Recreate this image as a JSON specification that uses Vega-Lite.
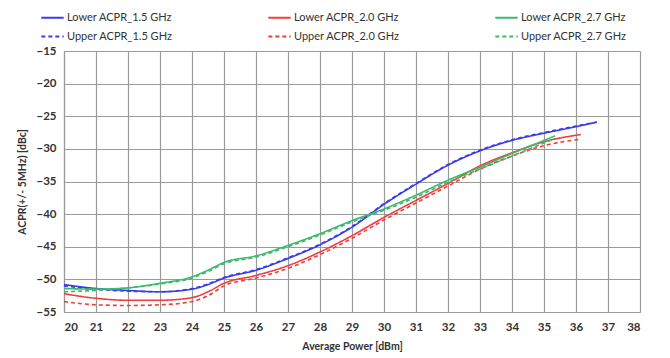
{
  "$schema": "https://vega.github.io/schema/vega-lite/v6.json",
  "autosize": {"type": "none"},
  "padding": {"left": 64, "top": 51, "right": 30, "bottom": 46},
  "width": 576,
  "height": 261,
  "background": "white",
  "config": {
    "view": {"stroke": null},
    "font": "Lato",
    "axis": {
      "gridColor": "#9a9a9a",
      "gridWidth": 1.2,
      "domainColor": "#9a9a9a",
      "domainWidth": 1.2,
      "tickColor": "#9a9a9a",
      "labelFont": "Lato",
      "labelFontWeight": "bold",
      "labelFontSize": 11.5,
      "labelColor": "#333333",
      "titleFont": "Lato",
      "titleFontWeight": "bold",
      "titleFontSize": 10.5,
      "titleColor": "#333333"
    }
  },
  "data": {
    "values": [
      {"power": 20, "acpr": -50.8, "series": "Lower ACPR_1.5 GHz"},
      {"power": 21, "acpr": -51.4, "series": "Lower ACPR_1.5 GHz"},
      {"power": 22, "acpr": -51.7, "series": "Lower ACPR_1.5 GHz"},
      {"power": 23, "acpr": -51.9, "series": "Lower ACPR_1.5 GHz"},
      {"power": 24, "acpr": -51.5, "series": "Lower ACPR_1.5 GHz"},
      {"power": 24.5, "acpr": -50.8, "series": "Lower ACPR_1.5 GHz"},
      {"power": 25, "acpr": -49.8, "series": "Lower ACPR_1.5 GHz"},
      {"power": 26, "acpr": -48.6, "series": "Lower ACPR_1.5 GHz"},
      {"power": 27, "acpr": -46.8, "series": "Lower ACPR_1.5 GHz"},
      {"power": 28, "acpr": -44.7, "series": "Lower ACPR_1.5 GHz"},
      {"power": 29, "acpr": -42.0, "series": "Lower ACPR_1.5 GHz"},
      {"power": 30, "acpr": -38.5, "series": "Lower ACPR_1.5 GHz"},
      {"power": 31, "acpr": -35.4, "series": "Lower ACPR_1.5 GHz"},
      {"power": 32, "acpr": -32.5, "series": "Lower ACPR_1.5 GHz"},
      {"power": 33, "acpr": -30.3, "series": "Lower ACPR_1.5 GHz"},
      {"power": 34, "acpr": -28.7, "series": "Lower ACPR_1.5 GHz"},
      {"power": 35, "acpr": -27.6, "series": "Lower ACPR_1.5 GHz"},
      {"power": 36, "acpr": -26.6, "series": "Lower ACPR_1.5 GHz"},
      {"power": 36.65, "acpr": -25.9, "series": "Lower ACPR_1.5 GHz"},

      {"power": 20, "acpr": -51.0, "series": "Upper ACPR_1.5 GHz"},
      {"power": 21, "acpr": -51.5, "series": "Upper ACPR_1.5 GHz"},
      {"power": 22, "acpr": -51.8, "series": "Upper ACPR_1.5 GHz"},
      {"power": 23, "acpr": -51.9, "series": "Upper ACPR_1.5 GHz"},
      {"power": 24, "acpr": -51.4, "series": "Upper ACPR_1.5 GHz"},
      {"power": 24.5, "acpr": -50.7, "series": "Upper ACPR_1.5 GHz"},
      {"power": 25, "acpr": -49.7, "series": "Upper ACPR_1.5 GHz"},
      {"power": 26, "acpr": -48.5, "series": "Upper ACPR_1.5 GHz"},
      {"power": 27, "acpr": -46.7, "series": "Upper ACPR_1.5 GHz"},
      {"power": 28, "acpr": -44.6, "series": "Upper ACPR_1.5 GHz"},
      {"power": 29, "acpr": -41.9, "series": "Upper ACPR_1.5 GHz"},
      {"power": 30, "acpr": -38.4, "series": "Upper ACPR_1.5 GHz"},
      {"power": 31, "acpr": -35.3, "series": "Upper ACPR_1.5 GHz"},
      {"power": 32, "acpr": -32.4, "series": "Upper ACPR_1.5 GHz"},
      {"power": 33, "acpr": -30.2, "series": "Upper ACPR_1.5 GHz"},
      {"power": 34, "acpr": -28.6, "series": "Upper ACPR_1.5 GHz"},
      {"power": 35, "acpr": -27.5, "series": "Upper ACPR_1.5 GHz"},
      {"power": 36, "acpr": -26.5, "series": "Upper ACPR_1.5 GHz"},
      {"power": 36.65, "acpr": -25.9, "series": "Upper ACPR_1.5 GHz"},

      {"power": 20, "acpr": -52.2, "series": "Lower ACPR_2.0 GHz"},
      {"power": 21, "acpr": -52.9, "series": "Lower ACPR_2.0 GHz"},
      {"power": 22, "acpr": -53.2, "series": "Lower ACPR_2.0 GHz"},
      {"power": 23, "acpr": -53.2, "series": "Lower ACPR_2.0 GHz"},
      {"power": 24, "acpr": -52.8, "series": "Lower ACPR_2.0 GHz"},
      {"power": 24.5, "acpr": -51.9, "series": "Lower ACPR_2.0 GHz"},
      {"power": 25, "acpr": -50.6, "series": "Lower ACPR_2.0 GHz"},
      {"power": 26, "acpr": -49.4, "series": "Lower ACPR_2.0 GHz"},
      {"power": 27, "acpr": -47.9, "series": "Lower ACPR_2.0 GHz"},
      {"power": 28, "acpr": -45.8, "series": "Lower ACPR_2.0 GHz"},
      {"power": 29, "acpr": -43.3, "series": "Lower ACPR_2.0 GHz"},
      {"power": 30, "acpr": -40.5, "series": "Lower ACPR_2.0 GHz"},
      {"power": 31, "acpr": -37.9, "series": "Lower ACPR_2.0 GHz"},
      {"power": 32, "acpr": -35.3, "series": "Lower ACPR_2.0 GHz"},
      {"power": 33, "acpr": -32.6, "series": "Lower ACPR_2.0 GHz"},
      {"power": 34, "acpr": -30.6, "series": "Lower ACPR_2.0 GHz"},
      {"power": 35, "acpr": -28.9, "series": "Lower ACPR_2.0 GHz"},
      {"power": 36.15, "acpr": -27.8, "series": "Lower ACPR_2.0 GHz"},

      {"power": 20, "acpr": -53.4, "series": "Upper ACPR_2.0 GHz"},
      {"power": 21, "acpr": -53.9, "series": "Upper ACPR_2.0 GHz"},
      {"power": 22, "acpr": -54.0, "series": "Upper ACPR_2.0 GHz"},
      {"power": 23, "acpr": -53.9, "series": "Upper ACPR_2.0 GHz"},
      {"power": 24, "acpr": -53.4, "series": "Upper ACPR_2.0 GHz"},
      {"power": 24.5, "acpr": -52.5, "series": "Upper ACPR_2.0 GHz"},
      {"power": 25, "acpr": -51.0, "series": "Upper ACPR_2.0 GHz"},
      {"power": 26, "acpr": -49.8, "series": "Upper ACPR_2.0 GHz"},
      {"power": 27, "acpr": -48.3, "series": "Upper ACPR_2.0 GHz"},
      {"power": 28, "acpr": -46.2, "series": "Upper ACPR_2.0 GHz"},
      {"power": 29, "acpr": -43.7, "series": "Upper ACPR_2.0 GHz"},
      {"power": 30, "acpr": -40.9, "series": "Upper ACPR_2.0 GHz"},
      {"power": 31, "acpr": -38.3, "series": "Upper ACPR_2.0 GHz"},
      {"power": 32, "acpr": -35.7, "series": "Upper ACPR_2.0 GHz"},
      {"power": 33, "acpr": -33.1, "series": "Upper ACPR_2.0 GHz"},
      {"power": 34, "acpr": -31.1, "series": "Upper ACPR_2.0 GHz"},
      {"power": 35, "acpr": -29.5, "series": "Upper ACPR_2.0 GHz"},
      {"power": 36.15, "acpr": -28.5, "series": "Upper ACPR_2.0 GHz"},

      {"power": 20, "acpr": -51.4, "series": "Lower ACPR_2.7 GHz"},
      {"power": 21, "acpr": -51.5, "series": "Lower ACPR_2.7 GHz"},
      {"power": 22, "acpr": -51.3, "series": "Lower ACPR_2.7 GHz"},
      {"power": 23, "acpr": -50.6, "series": "Lower ACPR_2.7 GHz"},
      {"power": 24, "acpr": -49.6, "series": "Lower ACPR_2.7 GHz"},
      {"power": 24.5, "acpr": -48.6, "series": "Lower ACPR_2.7 GHz"},
      {"power": 25, "acpr": -47.4, "series": "Lower ACPR_2.7 GHz"},
      {"power": 26, "acpr": -46.4, "series": "Lower ACPR_2.7 GHz"},
      {"power": 27, "acpr": -44.8, "series": "Lower ACPR_2.7 GHz"},
      {"power": 28, "acpr": -43.0, "series": "Lower ACPR_2.7 GHz"},
      {"power": 29, "acpr": -41.0, "series": "Lower ACPR_2.7 GHz"},
      {"power": 30, "acpr": -39.2, "series": "Lower ACPR_2.7 GHz"},
      {"power": 31, "acpr": -37.1, "series": "Lower ACPR_2.7 GHz"},
      {"power": 32, "acpr": -34.8, "series": "Lower ACPR_2.7 GHz"},
      {"power": 33, "acpr": -32.8, "series": "Lower ACPR_2.7 GHz"},
      {"power": 34, "acpr": -30.7, "series": "Lower ACPR_2.7 GHz"},
      {"power": 35, "acpr": -28.7, "series": "Lower ACPR_2.7 GHz"},
      {"power": 35.35, "acpr": -28.0, "series": "Lower ACPR_2.7 GHz"},

      {"power": 20, "acpr": -51.9, "series": "Upper ACPR_2.7 GHz"},
      {"power": 21, "acpr": -51.7, "series": "Upper ACPR_2.7 GHz"},
      {"power": 22, "acpr": -51.3, "series": "Upper ACPR_2.7 GHz"},
      {"power": 23, "acpr": -50.7, "series": "Upper ACPR_2.7 GHz"},
      {"power": 24, "acpr": -49.8, "series": "Upper ACPR_2.7 GHz"},
      {"power": 24.5, "acpr": -48.8, "series": "Upper ACPR_2.7 GHz"},
      {"power": 25, "acpr": -47.6, "series": "Upper ACPR_2.7 GHz"},
      {"power": 26, "acpr": -46.6, "series": "Upper ACPR_2.7 GHz"},
      {"power": 27, "acpr": -45.0, "series": "Upper ACPR_2.7 GHz"},
      {"power": 28, "acpr": -43.2, "series": "Upper ACPR_2.7 GHz"},
      {"power": 29, "acpr": -41.2, "series": "Upper ACPR_2.7 GHz"},
      {"power": 30, "acpr": -39.4, "series": "Upper ACPR_2.7 GHz"},
      {"power": 31, "acpr": -37.4, "series": "Upper ACPR_2.7 GHz"},
      {"power": 32, "acpr": -35.1, "series": "Upper ACPR_2.7 GHz"},
      {"power": 33, "acpr": -33.1, "series": "Upper ACPR_2.7 GHz"},
      {"power": 34, "acpr": -31.1, "series": "Upper ACPR_2.7 GHz"},
      {"power": 35, "acpr": -29.1, "series": "Upper ACPR_2.7 GHz"},
      {"power": 35.35, "acpr": -28.4, "series": "Upper ACPR_2.7 GHz"}
    ]
  },
  "mark": {"type": "line", "interpolate": "monotone", "strokeWidth": 1.6},
  "encoding": {
    "x": {
      "field": "power",
      "type": "quantitative",
      "scale": {"domain": [20, 38], "nice": false, "zero": false},
      "axis": {"values": [20,21,22,23,24,25,26,27,28,29,30,31,32,33,34,35,36,37,38], "title": "Average Power [dBm]", "ticks": false, "labelPadding": 9, "titlePadding": 9, "grid": true}
    },
    "y": {
      "field": "acpr",
      "type": "quantitative",
      "scale": {"domain": [-55, -15], "nice": false, "zero": false},
      "axis": {"values": [-55,-50,-45,-40,-35,-30,-25,-20,-15], "title": "ACPR(+/- 5MHz) [dBc]", "ticks": false, "labelPadding": 8, "titlePadding": 8, "grid": true}
    },
    "color": {
      "field": "series",
      "type": "nominal",
      "scale": {
        "domain": ["Lower ACPR_1.5 GHz", "Lower ACPR_2.0 GHz", "Lower ACPR_2.7 GHz", "Upper ACPR_1.5 GHz", "Upper ACPR_2.0 GHz", "Upper ACPR_2.7 GHz"],
        "range": ["#3b3bee", "#f23c3c", "#3cba6c", "#3b3bee", "#f23c3c", "#3cba6c"]
      },
      "legend": {
        "title": null,
        "orient": "none",
        "direction": "horizontal",
        "legendX": -24,
        "legendY": -46,
        "columns": 3,
        "columnPadding": 91,
        "rowPadding": 1,
        "symbolType": "stroke",
        "symbolSize": 500,
        "symbolStrokeWidth": 2,
        "labelFont": "Lato",
        "labelFontSize": 11,
        "labelColor": "#333333",
        "labelOffset": 2
      }
    },
    "strokeDash": {
      "field": "series",
      "type": "nominal",
      "scale": {
        "domain": ["Lower ACPR_1.5 GHz", "Lower ACPR_2.0 GHz", "Lower ACPR_2.7 GHz", "Upper ACPR_1.5 GHz", "Upper ACPR_2.0 GHz", "Upper ACPR_2.7 GHz"],
        "range": [[1, 0], [1, 0], [1, 0], [4, 3], [4, 3], [4, 3]]
      },
      "legend": null
    }
  }
}
